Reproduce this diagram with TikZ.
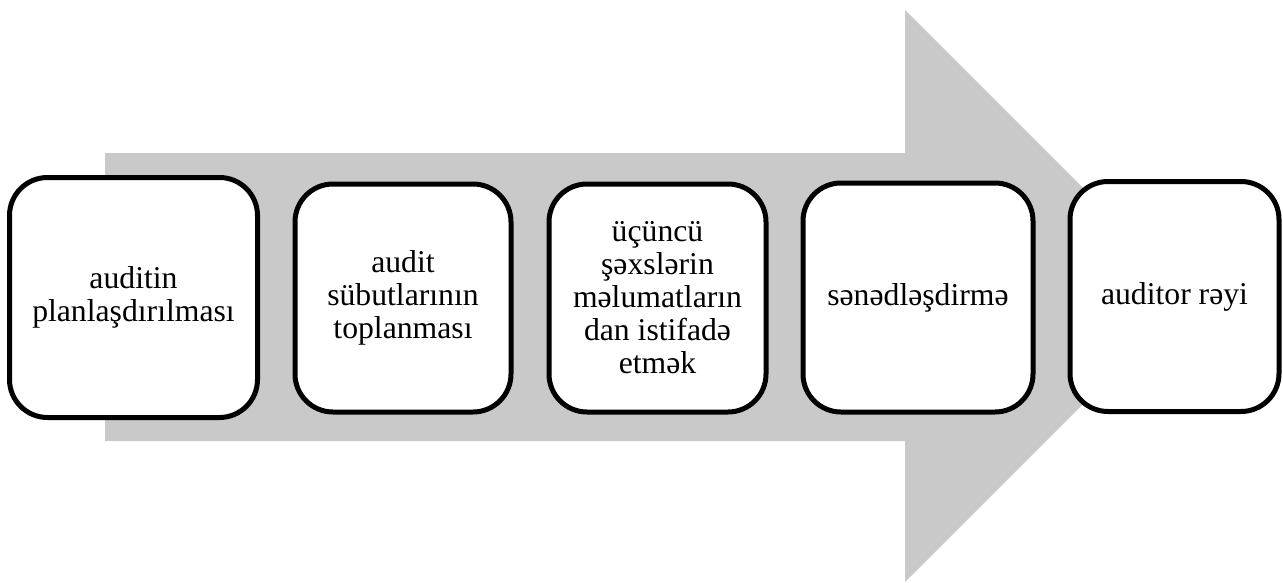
\documentclass[tikz,border=0pt]{standalone}
\usepackage{fontspec}
\setmainfont{Liberation Serif}
\definecolor{arrowgray}{RGB}{201,201,201}
\begin{document}
\begin{tikzpicture}[x=1pt,y=-1pt,
  stage/.style={draw=black, line width=5pt, fill=white, rounded corners=38pt,
    align=center, inner sep=0pt,
    font=\fontsize{31.7}{33}\selectfont},
]
\useasboundingbox (0,0) rectangle (1283,582);
% broad process arrow behind the stages
\fill[arrowgray] (105,153) -- (905,153) -- (905,10) -- (1191,296)
  -- (905,582) -- (905,441) -- (105,441) -- cycle;
% process stages
\node[stage, minimum width=248pt, minimum height=240pt] (s1) at (133.5,297.5)
  {auditin\\planlaşdırılması};
\node[stage, minimum width=216pt, minimum height=228pt] (s2) at (403,298)
  {audit\\sübutlarının\\toplanması};
\node[stage, minimum width=217pt, minimum height=228pt] (s3) at (657.5,298)
  {üçüncü\\şəxslərin\\məlumatların\\dan istifadə\\etmək};
\node[stage, minimum width=230pt, minimum height=229pt] (s4) at (918,297.5)
  {sənədləşdirmə};
\node[stage, minimum width=209pt, minimum height=230pt] (s5) at (1174.5,296.5)
  {auditor rəyi};
\end{tikzpicture}
\end{document}
